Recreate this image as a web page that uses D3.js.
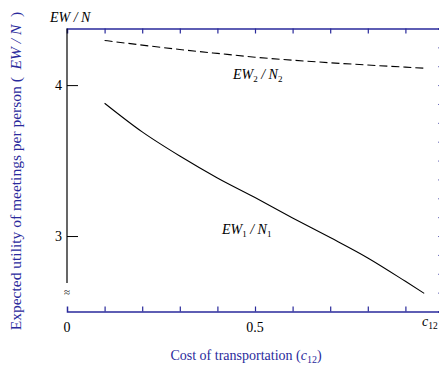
<!DOCTYPE html>
<html><head><meta charset="utf-8">
<script src="https://cdnjs.cloudflare.com/ajax/libs/d3/7.8.5/d3.min.js"></script>
<style>body{margin:0;background:#fff}svg{display:block;font-family:"Liberation Serif","DejaVu Serif",serif}</style>
</head><body><svg id="c" width="439" height="370"></svg>
<script>
const costs = [0.1, 0.2, 0.3, 0.4, 0.5, 0.6, 0.7, 0.8, 0.9, 0.95];
const ew1 = [3.88, 3.69, 3.53, 3.385, 3.255, 3.12, 2.99, 2.855, 2.70, 2.62];
const ew2 = [4.296, 4.265, 4.236, 4.21, 4.185, 4.165, 4.148, 4.133, 4.119, 4.112];
const yTicks = [3, 4];
const xTickLabels = [0, 0.5];
const xMinorTicks = [0.1, 0.2, 0.3, 0.4, 0.5, 0.6, 0.7, 0.8, 0.9];
const rightTicks = [2.625, 2.75, 2.875, 3, 3.125, 3.25, 3.375, 3.5, 3.625, 3.75, 3.875, 4, 4.125, 4.25];

const blue = "#2a2a9c";
const svg = d3.select("#c");
const x = d3.scaleLinear().domain([0, 1]).range([67, 443]);
const y = d3.scaleLinear().domain([2.5, 4.375]).range([311.5, 28.5]);

// top axis
const topAx = svg.append("g").attr("transform", `translate(0,${y(4.375)})`)
  .call(d3.axisBottom(x).tickValues(xMinorTicks).tickSize(5).tickFormat(""));
topAx.select(".domain").attr("stroke", blue).attr("stroke-width", 1.5);
topAx.selectAll(".tick line").attr("stroke", blue).attr("stroke-width", 1.2);

// bottom axis
const botAx = svg.append("g").attr("transform", `translate(0,${y(2.5)})`)
  .call(d3.axisTop(x).tickValues(xMinorTicks).tickSize(5).tickFormat(""));
botAx.select(".domain").attr("stroke", blue).attr("stroke-width", 1.5);
botAx.selectAll(".tick line").attr("stroke", blue).attr("stroke-width", 1.2);

// right axis (mostly off-canvas)
const rtAx = svg.append("g").attr("transform", `translate(${x(1)},0)`)
  .call(d3.axisLeft(y).tickValues(rightTicks).tickSize(5).tickFormat(""));
rtAx.select(".domain").attr("stroke", blue).attr("stroke-width", 1.5);
rtAx.selectAll(".tick line").attr("stroke", "#6a6ab8").attr("stroke-width", 1);

// x tick labels
svg.append("g").selectAll("text").data(xTickLabels).join("text")
  .attr("x", d => x(d)).attr("y", 332).attr("text-anchor", "middle")
  .attr("font-size", 14).attr("fill", "#000").text(d => d);
const c12 = svg.append("text").attr("x", 422).attr("y", 326).attr("font-size", 14).attr("fill", "#000");
c12.append("tspan").attr("font-style", "italic").text("c");
c12.append("tspan").attr("font-size", 9.5).attr("dy", 3).text("12");

// left axis
const leftAx = svg.append("g").attr("transform", `translate(${x(0)},0)`)
  .call(d3.axisRight(y).tickValues(yTicks).tickSize(11).tickFormat(""));
leftAx.select(".domain").remove();
leftAx.selectAll(".tick line").attr("stroke", "#000").attr("stroke-width", 1);
svg.append("line").attr("x1", x(0)).attr("x2", x(0)).attr("y1", y(4.375)).attr("y2", 283)
  .attr("stroke", "#000").attr("stroke-width", 1.2);
svg.append("g").selectAll("text").data(yTicks).join("text")
  .attr("x", 62).attr("y", d => y(d) + 5).attr("text-anchor", "end")
  .attr("font-size", 14).attr("fill", "#000").text(d => d);
svg.append("text").attr("x", x(0)).attr("y", 296).attr("text-anchor", "middle")
  .attr("font-size", 11).attr("fill", "#000").text("≈");

// curves
const line = d3.line().x((d, i) => x(costs[i])).y(d => y(d)).curve(d3.curveMonotoneX);
svg.append("path").attr("d", line(ew1)).attr("fill", "none").attr("stroke", "#000").attr("stroke-width", 1.1);
svg.append("path").attr("d", line(ew2)).attr("fill", "none").attr("stroke", "#000").attr("stroke-width", 1.1)
  .attr("stroke-dasharray", "8,4");

function lbl(xp, yp, sub) {
  const t = svg.append("text").attr("x", xp).attr("y", yp).attr("font-size", 14).attr("font-style", "italic").attr("fill", "#000");
  t.append("tspan").text("EW");
  t.append("tspan").attr("font-size", 9).attr("dy", 3).attr("font-style", "normal").text(sub);
  t.append("tspan").attr("dy", -3).text(" / N");
  t.append("tspan").attr("font-size", 9).attr("dy", 3).attr("font-style", "normal").text(sub);
}
lbl(233, 79, "2");
lbl(222, 234, "1");

// top-left label
svg.append("text").attr("x", 50).attr("y", 22).attr("font-size", 14).attr("font-style", "italic")
  .attr("fill", "#000").text("EW / N");

// axis titles
const yt = svg.append("text").attr("transform", "translate(21,171) rotate(-90)").attr("text-anchor", "middle")
  .attr("font-size", 15.5).attr("fill", blue);
yt.append("tspan").text("Expected utility of meetings per person (\u2002");
yt.append("tspan").attr("font-style", "italic").text("EW / N");
yt.append("tspan").text("\u2002)");

const xt = svg.append("text").attr("x", 246).attr("y", 360).attr("text-anchor", "middle")
  .attr("font-size", 14).attr("fill", blue);
xt.append("tspan").text("Cost of transportation (");
xt.append("tspan").attr("font-style", "italic").text("c");
xt.append("tspan").attr("font-size", 10).attr("dy", 3).text("12");
xt.append("tspan").attr("dy", -3).text(")");
</script></body></html>
